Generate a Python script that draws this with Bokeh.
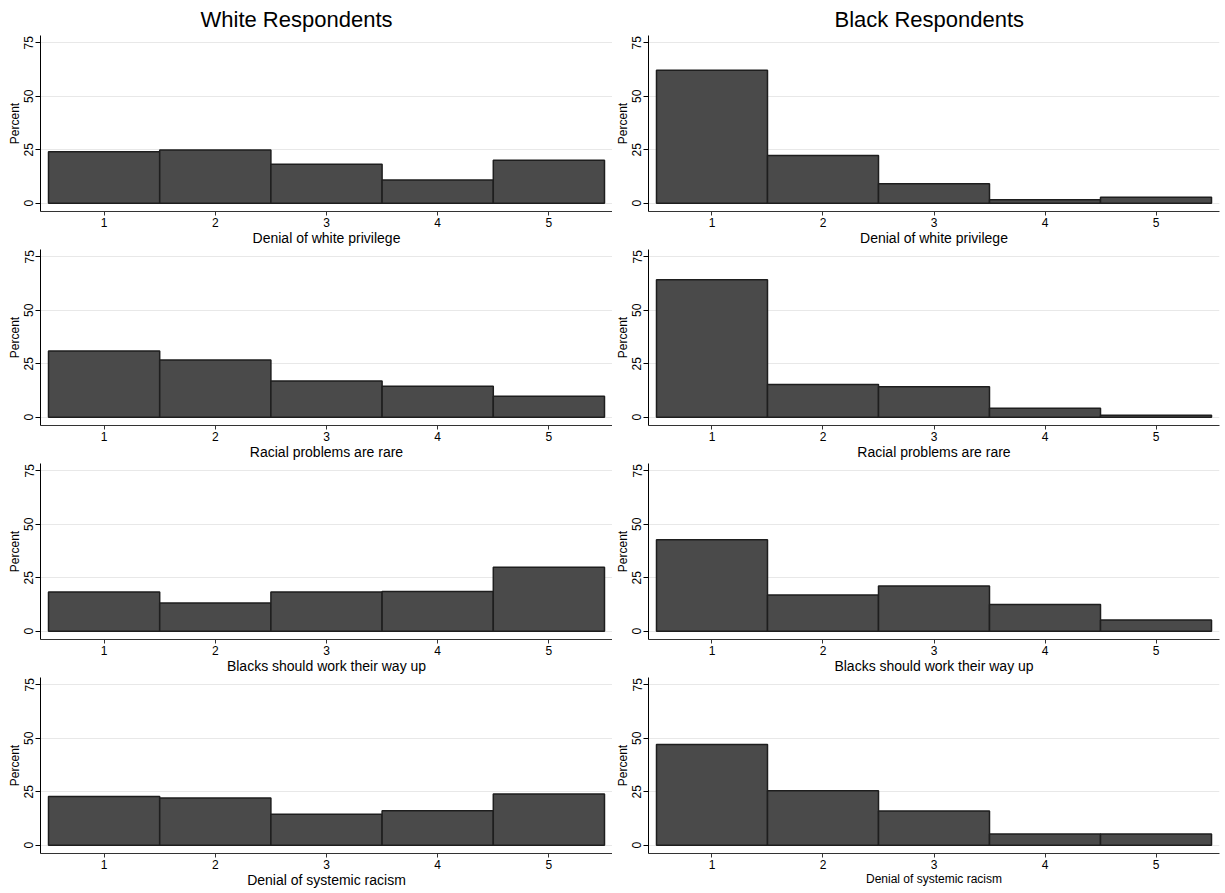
from bokeh.plotting import figure
from bokeh.layouts import column, row
from bokeh.models import Range1d, FixedTicker, Title, ColumnDataSource
from bokeh.embed import file_html
from bokeh.resources import INLINE

# ---- data ----
categories = [1, 2, 3, 4, 5]
column_titles = ["White Respondents", "Black Respondents"]
item_labels = [
    "Denial of white privilege",
    "Racial problems are rare",
    "Blacks should work their way up",
    "Denial of systemic racism",
]
y_ticks = [0, 25, 50, 75]

white_denial_privilege = [24.0, 24.9, 18.2, 10.8, 20.1]
white_racial_rare = [30.9, 26.7, 16.9, 14.5, 9.8]
white_work_way_up = [18.3, 13.2, 18.3, 18.6, 29.9]
white_systemic_racism = [22.8, 22.0, 14.5, 16.1, 23.9]

black_denial_privilege = [62.1, 22.3, 9.1, 1.6, 2.8]
black_racial_rare = [64.2, 15.3, 14.2, 4.2, 0.9]
black_work_way_up = [42.7, 16.9, 21.1, 12.5, 5.2]
black_systemic_racism = [47.1, 25.5, 16.0, 5.2, 5.2]

white_series = [white_denial_privilege, white_racial_rare, white_work_way_up, white_systemic_racism]
black_series = [black_denial_privilege, black_racial_rare, black_work_way_up, black_systemic_racism]

FONT = "Liberation Sans"


def make_panel(values, xlabel, col, rowi):
    if col == 0:
        width, bl, br = 612, 40, 0
    else:
        width, bl, br = 613, 36, 6
    if rowi == 0:
        height, bt, bb = 248, 35, 37
    elif rowi == 3:
        height, bt, bb = 215, 1, 38
    else:
        height, bt, bb = 214, 1, 37

    p = figure(width=width, height=height,
               x_range=Range1d(0.428, 5.572), y_range=Range1d(-3.9, 78.4),
               output_backend="svg", toolbar_location=None,
               min_border_left=bl, min_border_right=br,
               min_border_top=bt, min_border_bottom=bb,
               background_fill_color="white", border_fill_color="white")
    p.outline_line_color = None

    src = ColumnDataSource(data=dict(x=categories, top=values))
    p.vbar(x="x", top="top", bottom=0, width=1, source=src,
           fill_color="#4a4a4a", line_color="#1e1e1e", line_width=1.5)

    # grid
    p.xgrid.visible = False
    p.ygrid.ticker = FixedTicker(ticks=y_ticks)
    p.ygrid.grid_line_color = "#e8e8e8"
    p.ygrid.grid_line_width = 1

    # y axis
    ya = p.yaxis[0]
    ya.ticker = FixedTicker(ticks=y_ticks)
    ya.major_label_orientation = "vertical"
    ya.minor_tick_line_color = None
    ya.major_tick_in = 0
    ya.major_tick_out = 5
    ya.axis_line_color = "black"
    ya.major_tick_line_color = "black"
    ya.major_label_text_font = FONT
    ya.major_label_text_font_size = "12px"
    ya.major_label_text_color = "black"
    ya.major_label_standoff = 2
    ya.axis_label = "Percent"
    ya.axis_label_text_font = FONT
    ya.axis_label_text_font_size = "12px"
    ya.axis_label_text_font_style = "normal"
    ya.axis_label_text_color = "black"
    ya.axis_label_standoff = 0

    # x axis
    xa = p.xaxis[0]
    xa.ticker = FixedTicker(ticks=categories)
    xa.minor_tick_line_color = None
    xa.major_tick_in = 0
    xa.major_tick_out = 4
    xa.axis_line_color = "#333333"
    xa.major_tick_line_color = "#333333"
    xa.major_label_text_font = FONT
    xa.major_label_text_font_size = "12px"
    xa.major_label_text_color = "black"
    xa.major_label_standoff = 2
    xa.axis_label = xlabel
    xa.axis_label_text_font = FONT
    xa.axis_label_text_font_size = "12px" if (col == 1 and rowi == 3) else "14px"
    xa.axis_label_text_font_style = "normal"
    xa.axis_label_text_color = "black"
    xa.axis_label_standoff = 0

    if rowi == 0:
        p.title = Title(text=column_titles[col], align="left",
                        offset=160 if col == 0 else 186,
                        text_font=FONT, text_font_size="22px",
                        text_font_style="normal", text_color="black",
                        standoff=7)
    return p


rows = []
for i in range(4):
    left = make_panel(white_series[i], item_labels[i], 0, i)
    right = make_panel(black_series[i], item_labels[i], 1, i)
    rows.append(row(left, right))

layout = column(*rows)

open("out.html", "w").write(file_html(layout, INLINE))
